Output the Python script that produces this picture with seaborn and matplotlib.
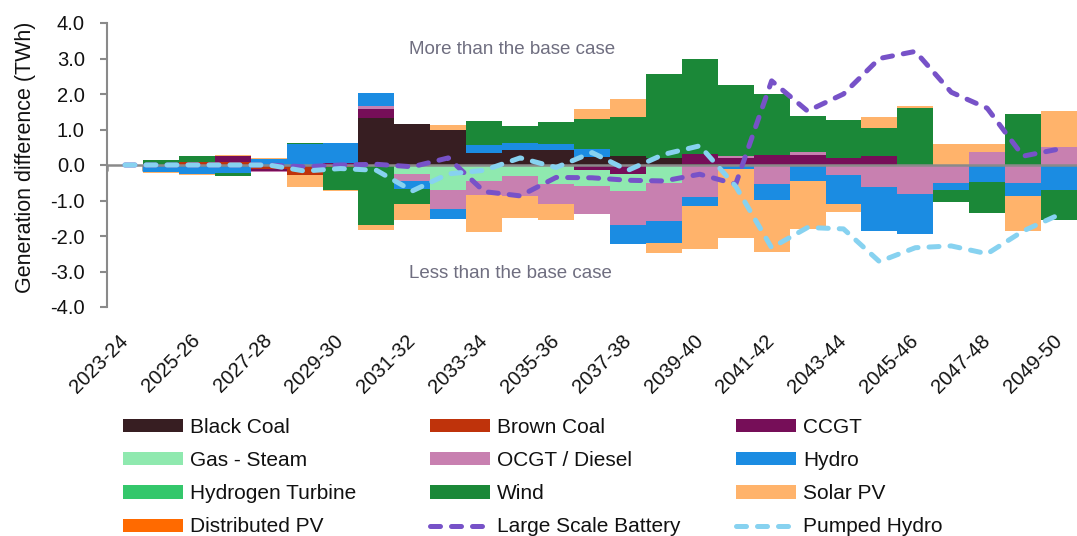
import numpy as np
import matplotlib
matplotlib.use("Agg")
import matplotlib.pyplot as plt
from matplotlib.patches import Patch
from matplotlib.lines import Line2D
import seaborn as sns

# Financial years shown on the category axis
years = ["2023-24", "2024-25", "2025-26", "2026-27", "2027-28", "2028-29", "2029-30",
         "2030-31", "2031-32", "2032-33", "2033-34", "2034-35", "2035-36", "2036-37",
         "2037-38", "2038-39", "2039-40", "2040-41", "2041-42", "2042-43", "2043-44",
         "2044-45", "2045-46", "2046-47", "2047-48", "2048-49", "2049-50"]

# Generation difference against the base case, TWh
black_coal = [0, 0, 0, 0, 0, 0, 0, 1.31, 1.16, 0.98, 0.35, 0.42, 0.41, 0.23, 0.25, 0.20, 0.03,
              0, 0, 0, 0, 0, 0, 0, 0, 0, 0]
brown_coal = [0, 0, 0.09, 0.08, -0.12, -0.28, -0.05, 0, 0, 0, 0, 0, 0, 0, 0, 0, 0,
              0, 0, 0, 0, 0, 0, 0, 0, 0, 0]
ccgt = [0, 0, 0, 0.18, -0.05, 0, 0.05, 0.26, 0, 0, 0, 0, 0, -0.15, -0.26, 0, 0.27,
        0.20, 0.27, 0.28, 0.20, 0.25, 0, 0, 0, 0, 0]
gas_steam = [0, 0, 0, 0, 0, 0, 0, 0, -0.26, -0.71, -0.45, -0.31, -0.54, -0.44, -0.48, -0.50, 0,
             0, 0, 0, 0, 0, 0, 0, 0, 0, 0]
ocgt_diesel = [0, 0, 0, 0, -0.04, 0, 0, 0.09, -0.19, -0.54, -0.40, -0.56, -0.55, -0.78, -0.95, -1.08, -0.91,
               0.05, -0.54, 0.08, -0.29, -0.61, -0.81, -0.50, 0.38, -0.50, 0.50]
hydro = [0, -0.20, -0.26, -0.22, 0.18, 0.60, 0.56, 0.36, -0.24, -0.28, 0.22, 0.21, 0.17, 0.21, -0.54, -0.63, -0.24,
         -0.10, -0.45, -0.45, -0.80, -1.25, -1.14, -0.21, -0.49, -0.37, -0.70]
hydrogen_turbine = [0] * 27
wind = [-0.02, 0.14, 0.16, -0.10, 0, 0.02, -0.65, -1.69, -0.40, 0, 0.66, 0.47, 0.64, 0.85, 1.10, 2.35, 2.70,
        2.00, 1.72, 1.02, 1.06, 0.78, 1.60, -0.34, -0.85, 1.45, -0.86]
solar_pv = [0, -0.03, -0.03, 0.03, 0.03, -0.33, -0.04, -0.15, -0.47, 0.15, -1.05, -0.61, -0.47, 0.28, 0.50, -0.27, -1.21,
            -1.95, -1.45, -1.34, -0.22, 0.32, 0.06, 0.58, 0.20, -0.99, 1.02]
distributed_pv = [0] * 27

# Storage behaviour, TWh
large_scale_battery = [0, 0, 0, 0, 0, -0.05, 0.0, 0.02, -0.05, 0.20, -0.75, -0.87, -0.35, -0.36, -0.43, -0.45,
                       -0.26, -0.54, 2.37, 1.52, 2.00, 3.00, 3.20, 2.05, 1.60, 0.25, 0.45]
pumped_hydro = [0, 0, 0, 0, 0, -0.17, -0.10, -0.15, -0.73, -0.25, -0.15, 0.20, -0.07, 0.35, -0.15, 0.30,
                0.54, -0.60, -2.33, -1.76, -1.80, -2.72, -2.33, -2.28, -2.50, -1.86, -1.40]

bar_series = [
    ("Black Coal", black_coal, "#371E22"),
    ("Brown Coal", brown_coal, "#BF330B"),
    ("CCGT", ccgt, "#760E58"),
    ("Gas - Steam", gas_steam, "#8FE9AF"),
    ("OCGT / Diesel", ocgt_diesel, "#C880B0"),
    ("Hydro", hydro, "#1B8CE2"),
    ("Hydrogen Turbine", hydrogen_turbine, "#34C76B"),
    ("Wind", wind, "#1B8838"),
    ("Solar PV", solar_pv, "#FFB36B"),
    ("Distributed PV", distributed_pv, "#FF6A00"),
]
line_series = [
    ("Large Scale Battery", large_scale_battery, "#7752C8"),
    ("Pumped Hydro", pumped_hydro, "#87D2F0"),
]

sns.set_theme(style="white")
plt.rcParams["font.family"] = ["Liberation Sans", "DejaVu Sans"]
plt.rcParams["axes.unicode_minus"] = False

W, H = 1077, 536
fig = plt.figure(figsize=(W / 100, H / 100), dpi=100)
ax = fig.add_axes([107 / W, 1 - 307 / H, 970 / W, 284 / H])

grey = "#8A8A8A"
x = np.arange(len(years))

# Stacked bars: positives build upward from zero, negatives downward
pos_base = np.zeros(len(years))
neg_base = np.zeros(len(years))
for name, vals, color in bar_series:
    v = np.asarray(vals, dtype=float)
    base = np.where(v >= 0, pos_base, neg_base)
    ax.bar(x, v, bottom=base, width=1.0, color=color, linewidth=0, zorder=1)
    pos_base += np.clip(v, 0, None)
    neg_base += np.clip(v, None, 0)

dash = (0, (2.0, 2.2))
for name, vals, color in line_series:
    sns.lineplot(x=x, y=vals, ax=ax, color=color, linewidth=3.6, linestyle=dash,
                 dash_capstyle="round", zorder=4)

ax.set_xlim(-0.5, -0.5 + 970 / 36.18)
ax.set_ylim(-4, 4)

# Value axis
ax.set_yticks(np.arange(-4, 4.01, 1))
ax.set_yticklabels([f"{v:.1f}" for v in np.arange(-4, 4.01, 1)])
ax.tick_params(axis="y", length=5, width=1.5, color=grey, pad=11, labelsize=14.5,
               labelcolor="#111111", left=True, direction="out")
ax.set_ylabel("Generation difference (TWh)", fontsize=15.5, color="#111111")
ax.yaxis.set_label_coords(-0.073, 0.526)

for side in ("top", "right"):
    ax.spines[side].set_visible(False)
ax.spines["left"].set_color(grey)
ax.spines["left"].set_linewidth(1.5)

# Category axis runs along zero, with marks between the years
ax.spines["bottom"].set_position(("data", 0))
ax.spines["bottom"].set_color(grey)
ax.spines["bottom"].set_linewidth(1.8)
ax.spines["bottom"].set_zorder(3)
ax.set_xticks(np.arange(-0.5, len(years), 1))
ax.set_xticklabels([])
ax.tick_params(axis="x", length=4.5, width=1.8, color=grey, direction="out", bottom=True)

# Year labels sit at the bottom of the plot area
sec = ax.secondary_xaxis(0)
sec.set_xticks(x[::2])
sec.set_xticklabels(years[::2], rotation=45, ha="right", va="center",
                    rotation_mode="anchor", fontsize=14.5, color="#111111")
sec.tick_params(length=0, pad=22)
sec.spines["bottom"].set_visible(False)

ax.text(7.9, 3.24, "More than the base case", color="#6F6E80", fontsize=13.5,
        ha="left", va="center")
ax.text(7.9, -3.07, "Less than the base case", color="#6F6E80", fontsize=13.5,
        ha="left", va="center")

# Legend laid out in three columns under the chart
handles = {}
for name, vals, color in bar_series:
    handles[name] = Patch(facecolor=color, edgecolor="none")
for name, vals, color in line_series:
    handles[name] = Line2D([0], [0], color=color, linewidth=3.6, linestyle=dash,
                           dash_capstyle="round")

columns = [
    (123, ["Black Coal", "Gas - Steam", "Hydrogen Turbine", "Distributed PV"]),
    (430, ["Brown Coal", "OCGT / Diesel", "Wind", "Large Scale Battery"]),
    (736, ["CCGT", "Hydro", "Solar PV", "Pumped Hydro"]),
]
legends = []
for left, names in columns:
    leg = ax.legend([handles[n] for n in names], names, loc="upper left",
                    bbox_to_anchor=(left / W, 1 - 418 / H), bbox_transform=fig.transFigure,
                    frameon=False, borderpad=0, borderaxespad=0, handlelength=2.9,
                    handleheight=0.6, handletextpad=0.33, labelspacing=0.68,
                    prop={"size": 15})
    for t in leg.get_texts():
        t.set_color("#111111")
    legends.append(leg)
for leg in legends[:-1]:
    ax.add_artist(leg)

fig.savefig("out.png", dpi=100)
